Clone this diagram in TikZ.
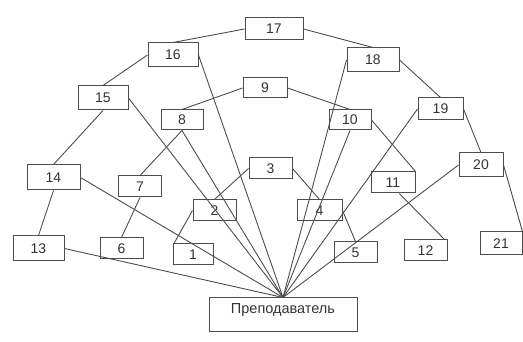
\documentclass[tikz,border=0pt]{standalone}
\usepackage{fontspec}
\setmainfont{Liberation Sans}
\definecolor{linegray}{HTML}{4D4D4D}
\definecolor{textgray}{HTML}{333333}
\tikzset{
  num/.style={draw=linegray, line width=1pt, rectangle, inner sep=0pt,
    minimum width=43pt, minimum height=21pt, text=textgray,
    font=\fontsize{14}{16}\selectfont},
  link/.style={draw=linegray, line width=0.9pt},
}
\begin{document}
\begin{tikzpicture}[x=1pt, y=-1pt] %Схема связей
            \useasboundingbox (0,0) rectangle (523,342);

            % верхняя дуга
            \node[num, minimum width=58pt, minimum height=22pt] (n17) at (274,29) {17};
            \node[num, minimum width=50pt, minimum height=24pt] (n16) at (173,55) {16};
            \node[num, minimum width=52pt, minimum height=24pt] (n18) at (373,60) {18};
            \node[num, minimum width=50pt, minimum height=24pt] (n15) at (103,98) {15};
            \node[num, minimum width=45pt, minimum height=22pt] (n19) at (440.5,109) {19};
            \node[num, minimum width=53pt, minimum height=25pt] (n14) at (53.5,177.5) {14};
            \node[num, minimum width=44pt, minimum height=24pt] (n20) at (481,165) {20};
            \node[num, minimum width=51pt, minimum height=25pt] (n13) at (38.5,248.5) {13};
            \node[num, minimum width=42pt, minimum height=23pt] (n21) at (501,243.5) {21};

            % средняя дуга
            \node[num, minimum width=44pt, minimum height=20pt] (n9) at (265,88) {9};
            \node[num, minimum width=42pt, minimum height=20pt] (n8) at (182,120) {8};
            \node[num, minimum width=42pt, minimum height=20pt] (n10) at (350,120) {10};
            \node[num] (n7) at (140,186.5) {7};
            \node[num, minimum width=44pt] (n11) at (393,182.5) {11};
            \node[num] (n6) at (121.5,248.5) {6};
            \node[num] (n12) at (425.5,250.5) {12};

            % нижняя дуга
            \node[num] (n3) at (270.5,168.5) {3};
            \node[num] (n2) at (214.5,210.5) {2};
            \node[num, minimum width=45pt] (n4) at (319.5,210.5) {4};
            \node[num, minimum width=40pt] (n1) at (193,254.5) {1};
            \node[num] (n5) at (355.5,252.5) {5};

            \node[num, minimum width=148pt, minimum height=34pt, text height=10pt,
                  text depth=14pt, font=\fontsize{14.5}{16}\selectfont] (t) at (283,315) {Преподаватель};

            % цепочки
            \draw[link] (n17.west) -- (n16.north);
            \draw[link] (n17.east) -- (n18.north);
            \draw[link] (n16.west) -- (n15.north);
            \draw[link] (n15.south) -- (n14.north);
            \draw[link] (n14.south) -- (n13.north);
            \draw[link] (n18.east) -- (n19.north);
            \draw[link] (n19.east) -- (n20.north);
            \draw[link] (n20.east) -- (n21.north east);

            \draw[link] (n9.west) -- (n8.north);
            \draw[link] (n9.east) -- (n10.north);
            \draw[link] (n8.south) -- (n7.north);
            \draw[link] (n7.south) -- (n6.north);
            \draw[link] (n10.east) -- (n11.north east);
            \draw[link] (n11.-60) -- (n12.30);

            \draw[link] (n3.west) -- (n2.north);
            \draw[link] (n2.west) -- (n1.150);
            \draw[link] (n3.east) -- (n4.north);
            \draw[link] (n4.east) -- (n5.north);

            % к преподавателю
            \foreach \a in {n13.east, n14.east, n15.east, n8.south, n16.east,
                            n10.south, n18.west, n19.west, n20.west}
              \draw[link] (\a) -- (t.north);
        \end{tikzpicture}
\end{document}
